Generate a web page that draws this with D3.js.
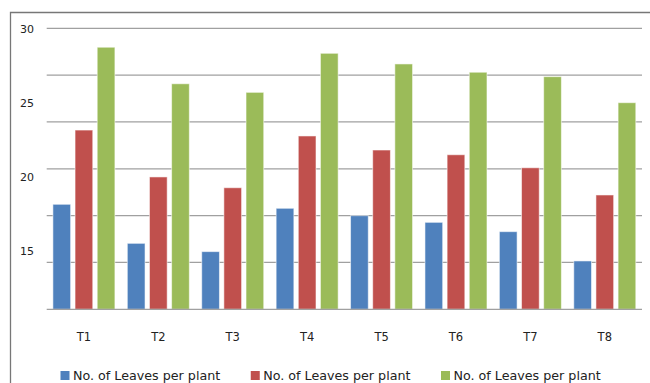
<!DOCTYPE html>
<html>
<head>
<meta charset="utf-8">
<script src="https://cdn.jsdelivr.net/npm/d3@7"></script>
<style>
  html, body { margin: 0; padding: 0; background: #fff; }
  svg { display: block; font-family: "DejaVu Sans", Verdana, sans-serif; }
</style>
</head>
<body>
<svg id="chart" width="650" height="383"></svg>
<script>
// Treatments along the x axis
const categories = ["T1", "T2", "T3", "T4", "T5", "T6", "T7", "T8"];

// Three series, all labelled the same in the legend
const seriesNames = ["No. of Leaves per plant", "No. of Leaves per plant", "No. of Leaves per plant"];
const seriesA = [18.10, 15.46, 14.90, 17.83, 17.33, 16.88, 16.25, 14.27];
const seriesB = [23.12, 19.95, 19.22, 22.72, 21.77, 21.45, 20.57, 18.73];
const seriesC = [28.72, 26.25, 25.67, 28.31, 27.59, 27.03, 26.73, 24.97];
const seriesColors = ["#4F81BD", "#C0504D", "#9BBB59"];

// Y axis labels and value range
const yTickLabels = [30, 25, 20, 15];
const yDomain = [11, 30];
const gridDivisions = 6;

const seriesValues = [seriesA, seriesB, seriesC];

const svg = d3.select("#chart");

// Chart frame (top and left edges visible)
svg.append("path")
  .attr("d", "M10.5,383 V12.5 H650")
  .attr("fill", "none")
  .attr("stroke", "#777")
  .attr("stroke-width", 1.3);

const plot = { left: 46.7, right: 642, top: 28.3, bottom: 309.3 };

const x0 = d3.scaleBand().domain(categories).range([plot.left, plot.right]).padding(0);
const x1 = d3.scaleBand().domain(d3.range(seriesValues.length))
  .range([6.2, x0.bandwidth() - 6.2]).paddingInner(0.2);
const y = d3.scaleLinear().domain(yDomain).range([plot.bottom, plot.top]);

// Horizontal gridlines, evenly spaced over the value range
const gridValues = d3.range(gridDivisions + 1).map(i => yDomain[0] + (yDomain[1] - yDomain[0]) * i / gridDivisions);
svg.append("g").selectAll("line")
  .data(gridValues.slice(1))
  .join("line")
  .attr("x1", plot.left).attr("x2", plot.right)
  .attr("y1", d => y(d)).attr("y2", d => y(d))
  .attr("stroke", "#a0a0a0")
  .attr("stroke-width", 1.2);

// Bars
const groups = svg.append("g").selectAll("g")
  .data(categories)
  .join("g")
  .attr("transform", d => `translate(${x0(d)},0)`);

groups.selectAll("rect")
  .data((c, ci) => seriesValues.map((vals, si) => ({ si, v: vals[ci] })))
  .join("rect")
  .attr("x", d => x1(d.si))
  .attr("width", x1.bandwidth())
  .attr("y", d => y(d.v))
  .attr("height", d => y(yDomain[0]) - y(d.v))
  .attr("fill", d => seriesColors[d.si])
  .attr("stroke", "rgba(255,255,255,0.55)")
  .attr("stroke-width", 1);

// Baseline
svg.append("line")
  .attr("x1", plot.left).attr("x2", plot.right)
  .attr("y1", y(yDomain[0])).attr("y2", y(yDomain[0]))
  .attr("stroke", "#a0a0a0")
  .attr("stroke-width", 1.2);

// Y labels
svg.append("g").selectAll("text")
  .data(yTickLabels)
  .join("text")
  .attr("x", 34)
  .attr("y", d => y(d) + 1)
  .attr("text-anchor", "end")
  .attr("dominant-baseline", "central")
  .attr("font-size", 11)
  .attr("fill", "#222")
  .text(d => d);

// Category labels
svg.append("g").selectAll("text")
  .data(categories)
  .join("text")
  .attr("x", d => x0(d) + x0.bandwidth() / 2)
  .attr("y", 340.7)
  .attr("text-anchor", "middle")
  .attr("font-size", 11.5)
  .attr("fill", "#222")
  .text(d => d);

// Legend
const legendX = d3.scalePoint().domain(d3.range(seriesNames.length)).range([60.5, 441]);
const legend = svg.append("g").selectAll("g")
  .data(seriesNames.map((name, i) => ({ name, i })))
  .join("g")
  .attr("transform", d => `translate(${legendX(d.i)},371)`);
legend.append("rect")
  .attr("width", 9).attr("height", 9)
  .attr("fill", d => seriesColors[d.i]);
legend.append("text")
  .attr("x", 12.5)
  .attr("y", 9)
  .attr("font-size", 12.7)
  .attr("fill", "#222")
  .text(d => d.name);
</script>
</body>
</html>
